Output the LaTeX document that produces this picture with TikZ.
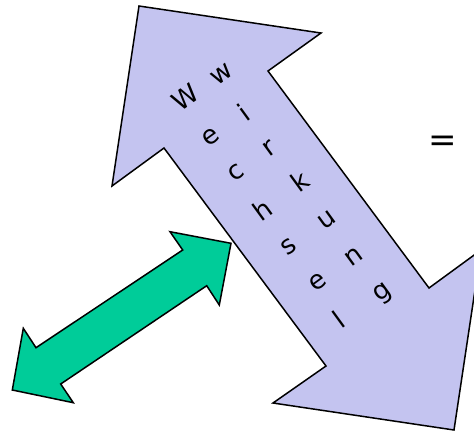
\documentclass[tikz,border=0pt]{standalone}
\usepackage{fontspec}
\setmainfont{DejaVu Sans}
\definecolor{lav}{RGB}{196,196,240}
\definecolor{grn}{RGB}{0,204,153}
\begin{document}
\begin{tikzpicture}[x=1pt,y=-1pt,
  bigarrow/.style={draw=black,fill=lav,line width=1.5pt,line join=miter},
  smallarrow/.style={draw=black,fill=grn,line width=1.5pt,line join=miter},
  ltr/.style={inner sep=0pt,rotate=36,font=\fontsize{26}{26}\selectfont},
  eqsign/.style={inner sep=0pt,font=\fontsize{34}{34}\selectfont}]
\useasboundingbox (0,0) rectangle (474,432);
% big lavender double arrow
\draw[bigarrow] (139,6) -- (321,33) -- (268,71) -- (429,288) -- (481,250)
  -- (454,430) -- (273,403) -- (326,366) -- (164,148) -- (112,186) -- cycle;
% green double arrow
\draw[smallarrow] (231,243.3) -- (170,231.7) -- (182.7,250) -- (36,347.7)
  -- (23.3,328.3) -- (12.3,390) -- (73.3,402.7) -- (60.7,384)
  -- (206.7,285.7) -- (219.3,305) -- cycle;
% Wechsel
\node[ltr] (we1) at (185,97.5) {W};
\node[ltr] (we2) at (210.7,137.3) {e};
\node[ltr] (we3) at (236.5,172.8) {c};
\node[ltr] (we4) at (262.3,210) {h};
\node[ltr] (we5) at (289,246.7) {s};
\node[ltr] (we6) at (317.3,282.3) {e};
\node[ltr] (we7) at (339,319) {l};
% Wirkung
\node[ltr] (wi1) at (221.7,74) {w};
\node[ltr] (wi2) at (243.3,112.3) {i};
\node[ltr] (wi3) at (270,148.3) {r};
\node[ltr] (wi4) at (300,181.5) {k};
\node[ltr] (wi5) at (326.7,220) {u};
\node[ltr] (wi6) at (354,256.7) {n};
\node[ltr] (wi7) at (383.3,294) {g};
% equals sign
\node[eqsign] (eq) at (443,143.5) {=};
\end{tikzpicture}
\end{document}
